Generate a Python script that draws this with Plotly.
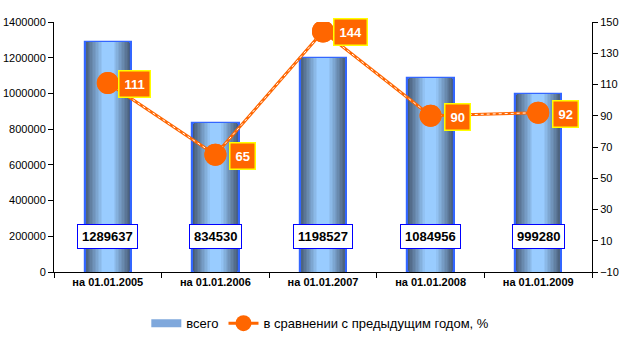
import plotly.graph_objects as go

categories = ["на 01.01.2005", "на 01.01.2006", "на 01.01.2007", "на 01.01.2008", "на 01.01.2009"]
totals = [1289637, 834530, 1198527, 1084956, 999280]
pct = [111, 65, 144, 90, 92]
bar_label_level = 200000

FONT = "Liberation Sans, Arial, sans-serif"

def mix(c1, c2, t):
    return "rgb(%d,%d,%d)" % tuple(round(a + (b - a) * t) for a, b in zip(c1, c2))

dark = (70, 90, 116)
light = (153, 204, 255)

fig = go.Figure()
W = 0.43
N = 16
for k in range(N):
    w = W * (1 - k / N)
    t = min(1.0, (k / (N - 1)) * 1.25)
    fig.add_trace(go.Bar(
        x=categories, y=totals, width=w,
        marker=dict(color=mix(dark, light, t),
                    line=dict(color="#3366ff", width=2.2 if k == 0 else 0)),
        name="всего", showlegend=False, yaxis="y",
    ))

# legend proxy for bars
fig.add_trace(go.Scatter(
    x=[None], y=[None], mode="lines", name="всего",
    line=dict(color="#7fa8dc", width=8),
))

fig.add_trace(go.Scatter(
    x=categories, y=pct, yaxis="y2", mode="lines+markers",
    line=dict(color="#ff6600", width=3),
    marker=dict(color="#ff6600", size=22),
    name="в сравнении с предыдущим годом, %",
))
fig.add_trace(go.Scatter(
    x=categories, y=pct, yaxis="y2", mode="lines",
    line=dict(color="white", width=1, dash="dot"),
    showlegend=False, hoverinfo="skip",
))
fig.add_trace(go.Scatter(
    x=categories, y=pct, yaxis="y2", mode="markers",
    marker=dict(color="#ff6600", size=22),
    showlegend=False, hoverinfo="skip",
))

ann = []
for c, v in zip(categories, totals):
    ann.append(dict(x=c, y=bar_label_level, xref="x", yref="y", text="<b>%d</b>" % v,
                    showarrow=False, bgcolor="white", bordercolor="#0000ff", borderwidth=1,
                    borderpad=4, font=dict(family=FONT, size=13, color="black")))
for c, v in zip(categories, pct):
    ann.append(dict(x=c, y=v, xref="x", yref="y2", text="<b>%d</b>" % v,
                    showarrow=False, xshift=27, yshift=-1, bgcolor="#ff6600",
                    bordercolor="#ffff00", borderwidth=1.5, borderpad=5,
                    font=dict(family=FONT, size=13, color="white")))

fig.update_layout(
    width=628, height=360,
    margin=dict(l=54, r=36, t=22, b=88),
    paper_bgcolor="white", plot_bgcolor="white",
    barmode="overlay", bargap=0,
    font=dict(family=FONT, size=11, color="black"),
    annotations=ann,
    xaxis=dict(type="category", showline=True, linecolor="black", linewidth=1,
               ticks="outside", tickson="boundaries", ticklen=5, tickcolor="black",
               tickfont=dict(family=FONT, size=11, color="black", weight="bold"),
               showgrid=False, zeroline=False, automargin=False),
    yaxis=dict(range=[0, 1400000], dtick=200000, tick0=0, showline=True, linecolor="black",
               ticks="outside", ticklen=5, tickcolor="black", showgrid=False, zeroline=False,
               tickformat="d", automargin=False,
               tickfont=dict(family=FONT, size=11, color="black")),
    yaxis2=dict(range=[-10, 150], dtick=20, tick0=-10, overlaying="y", side="right",
                showline=True, linecolor="black", ticks="outside", ticklen=5,
                tickcolor="black", showgrid=False, zeroline=False, automargin=False,
                tickfont=dict(family=FONT, size=11, color="black")),
    legend=dict(orientation="h", x=0.495, xanchor="center", y=-0.145, yanchor="top",
                font=dict(family=FONT, size=13, color="black"),
                traceorder="normal"),
)

fig.write_html("out.html", config={"displayModeBar": False},
               post_script="document.body.style.margin='0';")
